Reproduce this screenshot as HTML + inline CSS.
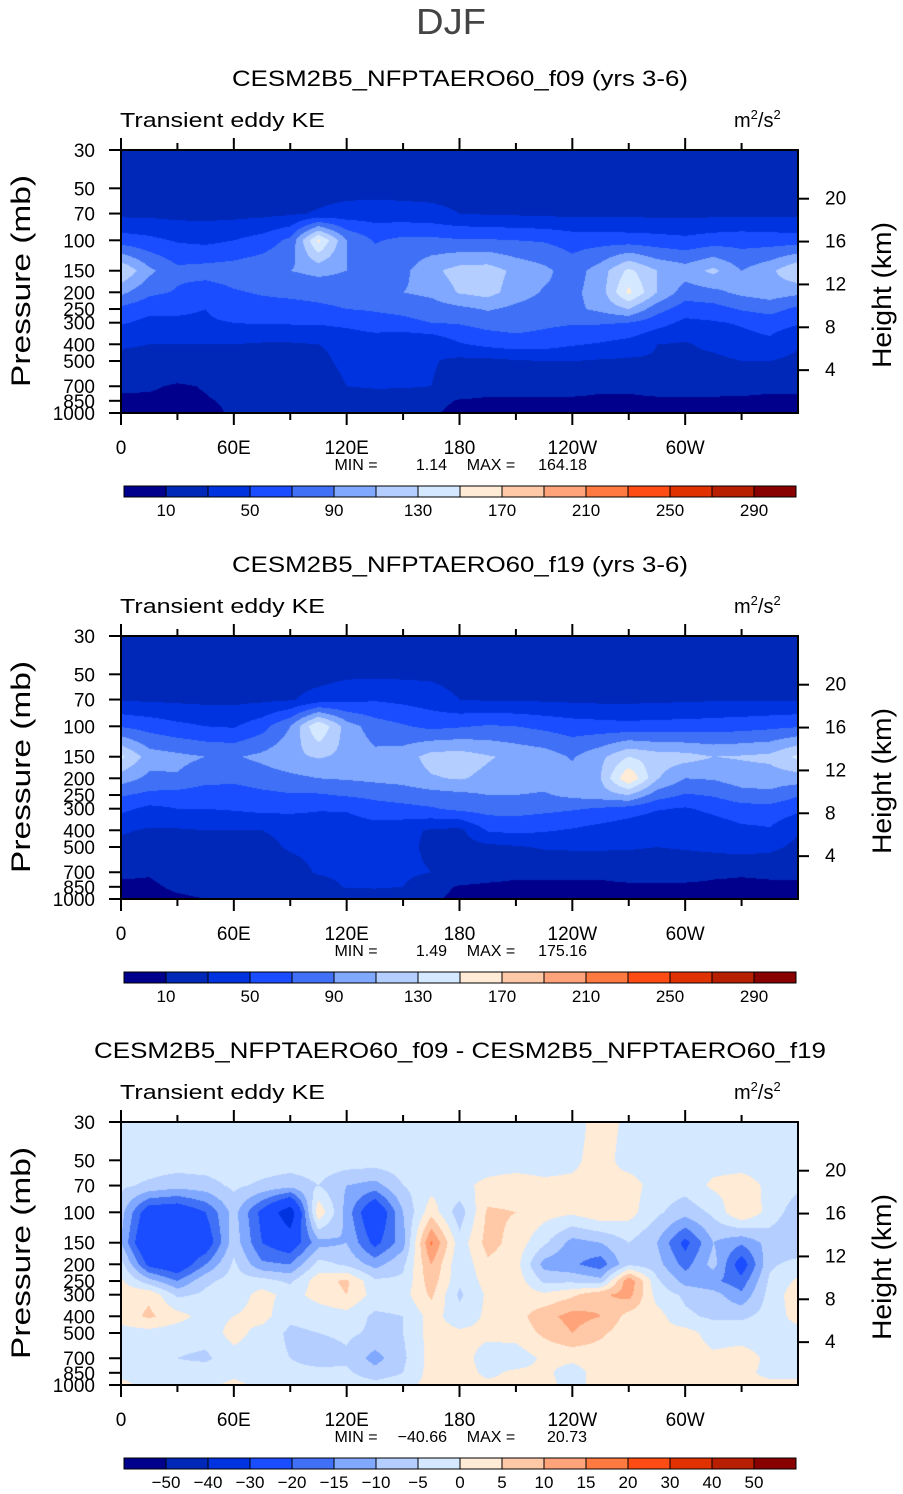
<!DOCTYPE html>
<html><head><meta charset="utf-8">
<style>
html,body{margin:0;padding:0;background:#fff;}
#wrap{position:relative;width:903px;height:1494px;overflow:hidden;font-family:"Liberation Sans",sans-serif;}
canvas{position:absolute;left:121px;}
svg{position:absolute;left:0;top:0;}
</style></head>
<body>
<div id="wrap">
<canvas id="c0" width="677" height="263" style="top:150px"></canvas>
<canvas id="c1" width="677" height="263" style="top:636px"></canvas>
<canvas id="c2" width="677" height="263" style="top:1122px"></canvas>
<svg id="ov" width="903" height="1494"></svg>
</div>
<script>
// ---------- data ----------
const lons = [0,15,30,45,60,75,90,105,120,135,150,165,180,195,210,225,240,255,270,285,300,315,330,345,360];
const levels = [30,50,70,100,150,200,250,300,400,500,700,850,1000];
const keLevels = [10,30,50,70,90,110,130,150,170,190,210,230,250,270,290];
const diffLevels = [-50,-40,-30,-20,-15,-10,-5,0,5,10,15,20,30,40,50];
const keLabels = ["10","50","90","130","170","210","250","290"];
const diffLabels = ["-50","-40","-30","-20","-15","-10","-5","0","5","10","15","20","30","40","50"];
const palette = ["#00008c","#0028b8","#0033e0","#1a4dff","#4070f5","#80a8ff","#b4ceff","#d4e8ff","#ffebd6","#ffc8a6","#ffa47a","#ff7a40","#ff4c14","#e03200","#b81e00","#880000"];
const xTickLabels = ["0","60E","120E","180","120W","60W"];
const heightTicks = [4,8,12,16,20];
const titles = ["CESM2B5_NFPTAERO60_f09 (yrs 3-6)","CESM2B5_NFPTAERO60_f19 (yrs 3-6)","CESM2B5_NFPTAERO60_f09 - CESM2B5_NFPTAERO60_f19"];
const minVals = ["1.14","1.49","-40.66"];
const maxVals = ["164.18","175.16","20.73"];

// f09 field, rows = levels (30..1000 mb), cols = lons
const f09 = [
[20,20,20,20,20,20,20,20,20,20,20,20,20,20,20,20,20,20,20,20,20,20,20,20,20],
[22,22,22,22,22,22,22,22,22,22,22,22,22,22,22,22,22,22,22,22,22,22,22,22,22],
[25,25,24,24,24,25,27,32,38,40,38,36,30,28,27,26,25,25,25,25,25,25,26,26,25],
[60,55,48,45,50,58,75,155,90,68,75,75,72,72,70,68,62,62,60,58,55,60,62,60,60],
[130,95,75,78,80,85,90,95,90,85,85,105,118,120,105,95,80,100,135,110,100,115,90,105,130],
[95,75,68,60,68,72,75,78,80,80,90,95,112,118,100,88,85,100,155,110,80,85,95,100,95],
[65,55,52,50,58,62,62,65,70,72,75,80,85,92,85,80,85,95,110,78,60,62,72,78,65],
[52,45,48,48,50,52,52,52,55,62,65,70,72,78,80,75,72,72,70,58,45,48,52,58,52],
[32,30,30,30,30,28,28,30,35,36,30,32,48,55,60,58,52,48,42,30,28,35,42,45,32],
[25,25,25,25,25,25,25,25,35,38,35,32,25,25,28,30,30,28,27,28,25,25,30,30,25],
[12,12,8,11,15,18,18,18,30,32,32,30,20,15,15,15,15,12,12,15,15,15,14,12,12],
[8,7,6,9,12,14,14,14,18,20,18,14,9,8,8,8,8,8,8,8,8,8,8,8,8],
[6,6,6,6,12,12,12,12,12,12,12,12,6,6,6,6,6,6,6,6,6,6,6,6,6]
];
// f19 field
const f19 = [
[20,20,20,20,20,20,20,20,20,20,20,20,20,20,20,20,20,20,20,20,20,20,20,20,20],
[22,22,22,22,22,22,22,22,26,26,26,26,22,22,22,22,22,22,22,22,22,22,22,22,22],
[28,27,26,25,25,26,28,38,45,48,45,40,30,28,28,27,26,25,25,26,27,28,28,28,28],
[68,62,55,50,48,62,90,150,100,80,72,65,68,72,70,65,60,58,56,58,58,60,62,65,68],
[135,100,95,90,88,95,105,112,105,95,100,118,120,112,105,100,88,105,130,120,118,110,112,115,135],
[100,85,88,78,75,80,85,90,92,95,98,108,112,105,100,98,98,110,170,112,90,92,100,100,100],
[72,65,62,58,60,65,68,68,72,75,78,82,85,90,90,88,95,100,110,80,68,72,82,85,72],
[55,45,50,50,52,55,55,52,52,62,65,68,75,78,78,75,72,68,62,52,48,55,62,62,55],
[32,28,28,30,30,30,34,36,38,40,35,28,25,52,55,52,48,42,35,30,30,38,45,48,32],
[25,25,25,25,25,25,32,35,38,40,36,25,22,25,28,32,33,33,32,30,32,35,38,35,25],
[12,11,15,18,18,18,22,32,35,38,35,30,18,15,12,12,12,12,15,15,15,12,11,12,12],
[8,8,12,14,15,15,15,20,32,33,30,14,9,8,8,8,8,8,8,8,8,8,8,8,8],
[6,6,8,10,12,12,12,12,12,12,12,12,7,6,6,6,6,6,6,6,6,6,6,6,6]
];
// difference field
const fdiff = [
[-2,-2,-2,-2,-2,-2,-2,-2,-2,-2,-2,-2,-2,-2,-2,-2,-2,2,-1,-2,-2,-2,-2,-2,-2],
[-2,-2,-2,-2,-2,-2,-2,-2,-2,-2,-2,-2,-2,-2,-2,-2,-1,2,-2,-2,-2,-2,-2,-2,-2],
[-4,-6,-8,-7,-4,-6,-8,-5,-10,-12,-5,-2,-1,1,2,1,1,1,2,-2,-3,1,2,-1,-4],
[-8,-25,-26,-20,-8,-22,-36,4,-12,-28,-10,3,-8,6,5,2,1,4,2,-4,-8,-4,5,-2,-8],
[-10,-30,-28,-25,-7,-20,-25,-12,-10,-22,-12,16,-3,7,3,-4,-12,-10,-5,-10,-22,-10,-14,-8,-10],
[-3,-22,-26,-15,-4,-14,-15,-3,-6,-12,-6,10,-4,4,2,-12,-14,-18,-6,-8,-17,-8,-24,-6,-3],
[1,-8,-15,-6,-3,-3,-6,3,6,-4,-4,8,-4,2,3,-6,-6,-8,14,-4,-12,-14,-18,-4,1],
[3,4,-6,-4,-3,2,-2,2,5,-2,-2,6,-6,1,3,1,4,9,12,-2,-6,-8,-14,-3,3],
[2,6,2,-2,0,2,-4,-3,-2,-6,-5,2,-3,1,3,8,12,10,3,2,-4,-6,-6,-3,2],
[-2,-2,-3,-3,2,-2,-6,-5,-4,-6,-5,2,1,1,2,6,10,6,2,1,2,-2,-2,-2,-2],
[-2,-2,-5,-6,-2,-3,-5,-8,-6,-12,-6,2,2,-2,-3,1,1,2,2,1,2,1,2,-1,-2],
[-1,-2,-3,-2,-1,-2,-3,-3,-4,-8,-5,2,2,-1,1,1,-2,2,1,1,2,2,1,-1,-1],
[1,-1,-1,-1,1,-1,-2,-2,-2,-3,-2,2,2,1,1,1,-1,1,1,1,1,1,1,1,1]
];

// ---------- geometry ----------
const PX0=121, PX1=798, PW=677, PH=263, PTOP=150, DY=486;
const LOGR = Math.log(1000/30);
function yFrac(p){ return Math.log(p/30)/LOGR; }
function xScale(lon){ return PX0 + lon/360*PW; }
function yScale(p,top){ return top + yFrac(p)*PH; }

function hexToRgb(h){ return [parseInt(h.substr(1,2),16),parseInt(h.substr(3,2),16),parseInt(h.substr(5,2),16)]; }
const palRgb = palette.map(hexToRgb);
function cIndex(v,levs){ let i=0; while(i<levs.length && v>=levs[i]) i++; return i; }

function drawField(id, field, levs){
  const cv=document.getElementById(id), ctx=cv.getContext('2d');
  const img=ctx.createImageData(PW,PH), d=img.data;
  const lf=levels.map(yFrac);
  const dlon = lons[1]-lons[0];
  for(let py=0;py<PH;py++){
    const fr=(py+0.5)/PH;
    let k=0; while(k<lf.length-2 && fr>lf[k+1]) k++;
    const t=Math.min(1,Math.max(0,(fr-lf[k])/(lf[k+1]-lf[k])));
    for(let px=0;px<PW;px++){
      const lon=(px+0.5)/PW*360;
      let j=Math.min(lons.length-2,Math.floor(lon/dlon));
      const s=(lon-lons[j])/dlon;
      const a=field[k][j]*(1-s)+field[k][j+1]*s;
      const b=field[k+1][j]*(1-s)+field[k+1][j+1]*s;
      const v=a*(1-t)+b*t;
      const c=palRgb[cIndex(v,levs)];
      const o=(py*PW+px)*4;
      d[o]=c[0];d[o+1]=c[1];d[o+2]=c[2];d[o+3]=255;
    }
  }
  ctx.putImageData(img,0,0);
}
drawField('c0',f09,keLevels);
drawField('c1',f19,keLevels);
drawField('c2',fdiff,diffLevels);

// ---------- overlay ----------
const NS="http://www.w3.org/2000/svg";
const svg=document.getElementById('ov');
function mk(tag,attrs,parent){
  const e=document.createElementNS(NS,tag);
  for(const k in attrs) e.setAttribute(k,attrs[k]);
  (parent||svg).appendChild(e); return e;
}
function txt(str,attrs,parent){ const e=mk('text',attrs,parent); e.textContent=str; return e; }

const djf=txt("DJF",{x:451,y:34,'text-anchor':'middle','font-size':36,fill:'#444',textLength:70,lengthAdjust:'spacingAndGlyphs'});



const presTicks=[30,50,70,100,150,200,250,300,400,500,700,850,1000];
for(let i=0;i<3;i++){
  const top=PTOP+i*DY;
  const g=mk('g',{});
  
  
  const tt=txt(titles[i],{x:460,y:top-64,'text-anchor':'middle','font-size':22,fill:'#000',textLength:(i<2?456:732),lengthAdjust:'spacingAndGlyphs'},g);
  
  
  const st=txt("Transient eddy KE",{x:120,y:top-23,'font-size':20,fill:'#000',textLength:205,lengthAdjust:'spacingAndGlyphs'},g);
  
  
  const un=mk('text',{x:734,y:top-23,'font-size':20,fill:'#000'},g);
  
  
  un.innerHTML='m<tspan dy="-8" font-size="13">2</tspan><tspan dy="8">/s</tspan><tspan dy="-8" font-size="13">2</tspan>';
  const fr=mk('rect',{x:PX0,y:top,width:PW,height:PH,fill:'none',stroke:'#000','stroke-width':2},g);
  
  
  presTicks.forEach(p=>{
    const y=yScale(p,top);
    mk('line',{x1:109,x2:PX0,y1:y,y2:y,stroke:'#000','stroke-width':2},g);
    const l=txt(String(p),{x:95,y:y+7,'text-anchor':'end','font-size':19,fill:'#000'},g);
    
    
  });
  heightTicks.forEach(h=>{
    const p=1000*Math.exp(-h/7);
    const y=yScale(p,top);
    mk('line',{x1:PX1,x2:PX1+11,y1:y,y2:y,stroke:'#000','stroke-width':2},g);
    const l=txt(String(h),{x:825,y:y+6,'font-size':19,fill:'#000'},g);
    
    
  });
  for(let lon=0;lon<=330;lon+=30){
    const x=xScale(lon), major=(lon%60===0);
    mk('line',{x1:x,x2:x,y1:top-(major?12:7),y2:top,stroke:'#000','stroke-width':2},g);
    mk('line',{x1:x,x2:x,y1:top+PH,y2:top+PH+(major?12:7),stroke:'#000','stroke-width':2},g);
  }
  xTickLabels.forEach((s,k)=>{
    const l=txt(s,{x:xScale(k*60),y:top+PH+41,'text-anchor':'middle','font-size':19,fill:'#000'},g);
    
    
  });
  const mmY=top+PH+57;
  const m1=txt("MIN =",{x:356,y:mmY,'text-anchor':'middle','font-size':16,fill:'#000'},g);
  
  
  const m2=txt(minVals[i].replace('-','\u2212'),{x:447,y:mmY,'text-anchor':'end','font-size':16,fill:'#000'},g);
  
  
  const m3=txt("MAX  =",{x:491,y:mmY,'text-anchor':'middle','font-size':16,fill:'#000'},g);
  
  
  const m4=txt(maxVals[i],{x:587,y:mmY,'text-anchor':'end','font-size':16,fill:'#000'},g);
  
  
  const yl=txt("Pressure (mb)",{x:0,y:0,'text-anchor':'middle','font-size':27,fill:'#000',transform:`translate(30,${top+131}) rotate(-90)`,textLength:212,lengthAdjust:'spacingAndGlyphs'},g);
  
  
  const hl=txt("Height (km)",{x:0,y:0,'text-anchor':'middle','font-size':27,fill:'#000',transform:`translate(891,${top+145}) rotate(-90)`,textLength:146,lengthAdjust:'spacingAndGlyphs'},g);
  
  
  const cb=mk('g',{},g);
  
  
  const cbY=top+336, bw=42;
  palette.forEach((c,k)=>{
    const r=mk('rect',{x:124+k*bw,y:cbY,width:bw,height:11,fill:c,stroke:'#000','stroke-width':1},cb);
    
    
  });
  if(i<2){
    keLabels.forEach((s,k)=>{
      const l=txt(s,{x:124+bw*(1+2*k),y:cbY+30,'text-anchor':'middle','font-size':17,fill:'#000'},cb);
      
      
    });
  } else {
    diffLabels.forEach((s,k)=>{
      const l=txt(s.replace('-','\u2212'),{x:124+bw*(1+k),y:cbY+30,'text-anchor':'middle','font-size':17,fill:'#000'},cb);
      
      
    });
  }
}
</script>
</body></html>
